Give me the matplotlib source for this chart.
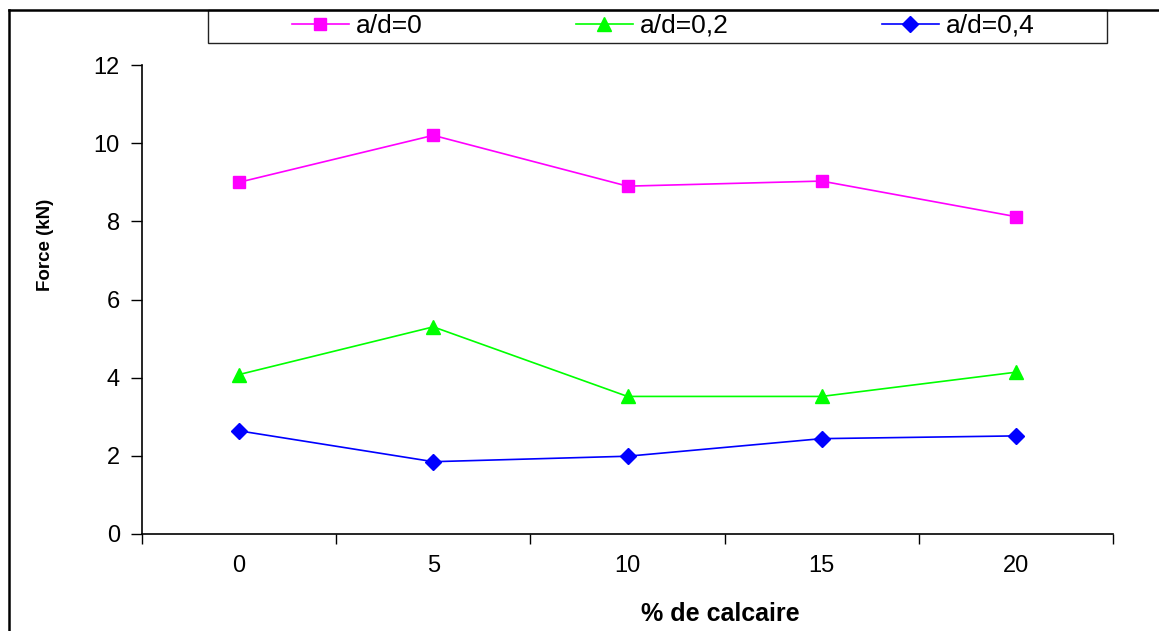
#----------------------------------------------------------------------------------------------------------------------
# Imports

import matplotlib
matplotlib.use("Agg")
import matplotlib.pyplot as plt
from matplotlib.lines import Line2D
from matplotlib.patches import Rectangle

#----------------------------------------------------------------------------------------------------------------------
# Data

categories = ["0", "5", "10", "15", "20"]
ad_0 = [9.0, 10.2, 8.9, 9.03, 8.12]
ad_02 = [4.08, 5.3, 3.52, 3.52, 4.14]
ad_04 = [2.64, 1.85, 1.99, 2.44, 2.51]
labels = ["a/d=0", "a/d=0,2", "a/d=0,4"]

#----------------------------------------------------------------------------------------------------------------------
# Figure

plt.rcParams['font.family'] = ['Liberation Sans', 'DejaVu Sans']

W, H = 1159, 631
fig = plt.figure(figsize=(W / 100, H / 100), dpi=100)
ax = fig.add_axes([142 / W, 1 - 534 / H, (1113 - 142) / W, (534 - 65) / H])

x = range(len(categories))
ax.plot(x, ad_0, color="#ff00ff", marker="s", markersize=9, lw=1.2, label=labels[0])
ax.plot(x, ad_02, color="#00ff00", marker="^", markersize=10, lw=1.2, label=labels[1])
ax.plot(x, ad_04, color="#0000ff", marker="D", markersize=8, lw=1.2, label=labels[2])

ax.set_xlim(-0.5, len(categories) - 0.5)
ax.set_ylim(0, 12)
ax.set_yticks(range(0, 13, 2))
ax.tick_params(axis="y", labelsize=17, length=8, width=1, pad=8)

# category axis: ticks between categories, labels centered
ax.set_xticks([i - 0.5 for i in range(len(categories) + 1)])
ax.set_xticklabels([])
ax.set_xticks(list(x), minor=True)
ax.set_xticklabels(categories, minor=True)
ax.tick_params(axis="x", which="major", length=7, width=1)
ax.tick_params(axis="x", which="minor", length=0, labelsize=17, pad=15)

for s in ["top", "right"]:
    ax.spines[s].set_visible(False)
for s in ["left", "bottom"]:
    ax.spines[s].set_linewidth(1.2)

fig.text(45 / W, 1 - 245 / H, "Force (kN)", rotation=90, ha="center", va="center",
         fontsize=13.5, fontweight="bold")
fig.text(720 / W, 1 - 614 / H, "% de calcaire", ha="center", va="center",
         fontsize=18, fontweight="bold")

#----------------------------------------------------------------------------------------------------------------------
# Legend and border

fig.add_artist(Rectangle((208 / W, 1 - 43 / H), (1107 - 208) / W, 33 / H, transform=fig.transFigure,
                         fill=False, edgecolor="#222222", lw=1))
fig.legend(loc="center", bbox_to_anchor=(663 / W, 1 - 26 / H), ncol=3, frameon=False,
           fontsize=19, handlelength=2.16, handletextpad=0.27, columnspacing=5.8)

fig.add_artist(Line2D([8.5 / W, 8.5 / W], [0, 1 - 10 / H], transform=fig.transFigure, color="black", lw=1.8))
fig.add_artist(Line2D([8.5 / W, 1], [1 - 10 / H, 1 - 10 / H], transform=fig.transFigure, color="black", lw=1.8))

fig.savefig("out.png", dpi=100)
